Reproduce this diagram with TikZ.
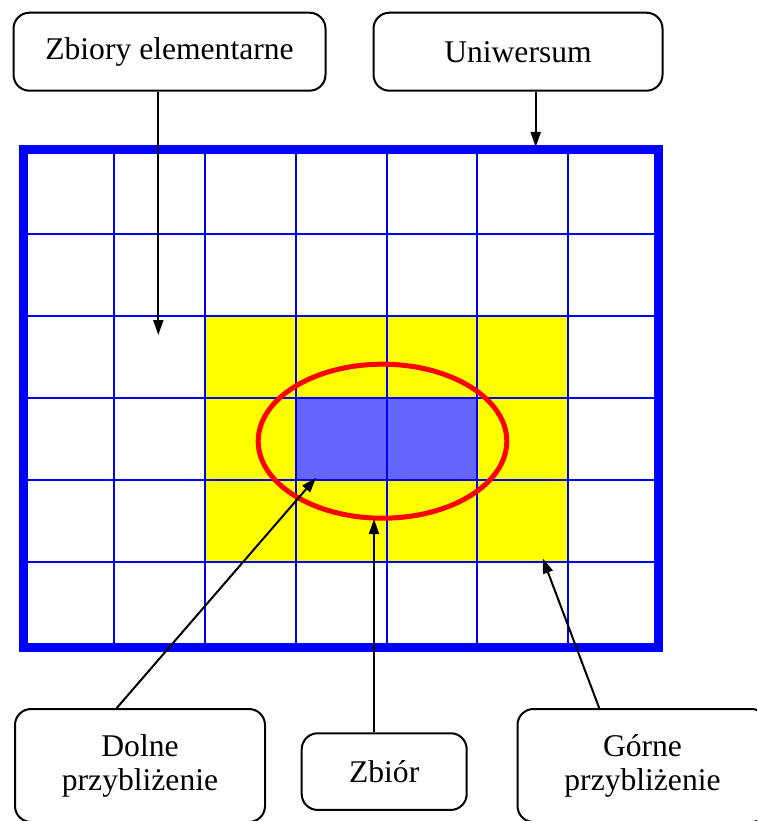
\documentclass[tikz,border=0pt]{standalone}
\usepackage{fontspec}
\setmainfont{Liberation Serif}
\usetikzlibrary{arrows.meta}
\definecolor{gridblue}{HTML}{0000FF}
\definecolor{setblue}{HTML}{6666FF}
\definecolor{upyellow}{HTML}{FFFF00}
\definecolor{setred}{HTML}{FF0000}
\tikzset{
  labelbox/.style={draw=black, line width=2pt, rounded corners=16pt, fill=white,
    inner sep=0pt, align=center, font=\fontsize{31.6}{34}\selectfont},
  gridline/.style={draw=gridblue, line width=2pt},
  pointer/.style={draw=black, line width=2pt, -{Triangle[length=15pt,width=10pt]}},
}
\begin{document}
\begin{tikzpicture}[x=1pt,y=-1pt]
\clip (0,0) rectangle (757,821);
\fill[white] (0,0) rectangle (757,821);
% approximations
\fill[upyellow] (205,316) rectangle (568,562);
\fill[setblue] (296,398) rectangle (477,480);
% grid
\foreach \x in {114,205,296,386.5,477,568}
  \draw[gridline] (\x,149.5) -- (\x,647.5);
\foreach \y in {234,316,398,480,562}
  \draw[gridline] (23.5,\y) -- (658.5,\y);
\draw[draw=gridblue, line width=9pt] (23.5,149.5) rectangle (658.5,647.5);
% set
\draw[setred, line width=5pt] (382.5,441.2) ellipse [x radius=124.3, y radius=77];
% label boxes
\node[labelbox, minimum width=312pt, minimum height=78pt] (zbe) at (169.5,51.7) {Zbiory elementarne};
\node[labelbox, minimum width=289pt, minimum height=78pt] (uni) at (518,51.7) {Uniwersum};
\node[labelbox, minimum width=250pt, minimum height=113pt] (dolne) at (140,765.5) {Dolne\\przybliżenie};
\node[labelbox, minimum width=165pt, minimum height=76.7pt] (zbior) at (384.2,771.6) {Zbiór};
\node[labelbox, minimum width=250pt, minimum height=113pt] (gorne) at (642.5,765.5) {Górne\\przybliżenie};
% pointer tips
\coordinate (zbeTip) at (158.3,335);
\coordinate (uniTip) at (535.7,147);
\coordinate (dolTip) at (316,477.7);
\coordinate (zbiTip) at (374,519);
\coordinate (gorTip) at (542.7,558.3);
% pointers
\draw[pointer] (zbeTip |- zbe.south) -- (zbeTip);
\draw[pointer] (uniTip |- uni.south) -- (uniTip);
\draw[pointer] (dolne.112) -- (dolTip);
\draw[pointer] (zbiTip |- zbior.north) -- (zbiTip);
\draw[pointer] (gorne.127) -- (gorTip);
\end{tikzpicture}
\end{document}
